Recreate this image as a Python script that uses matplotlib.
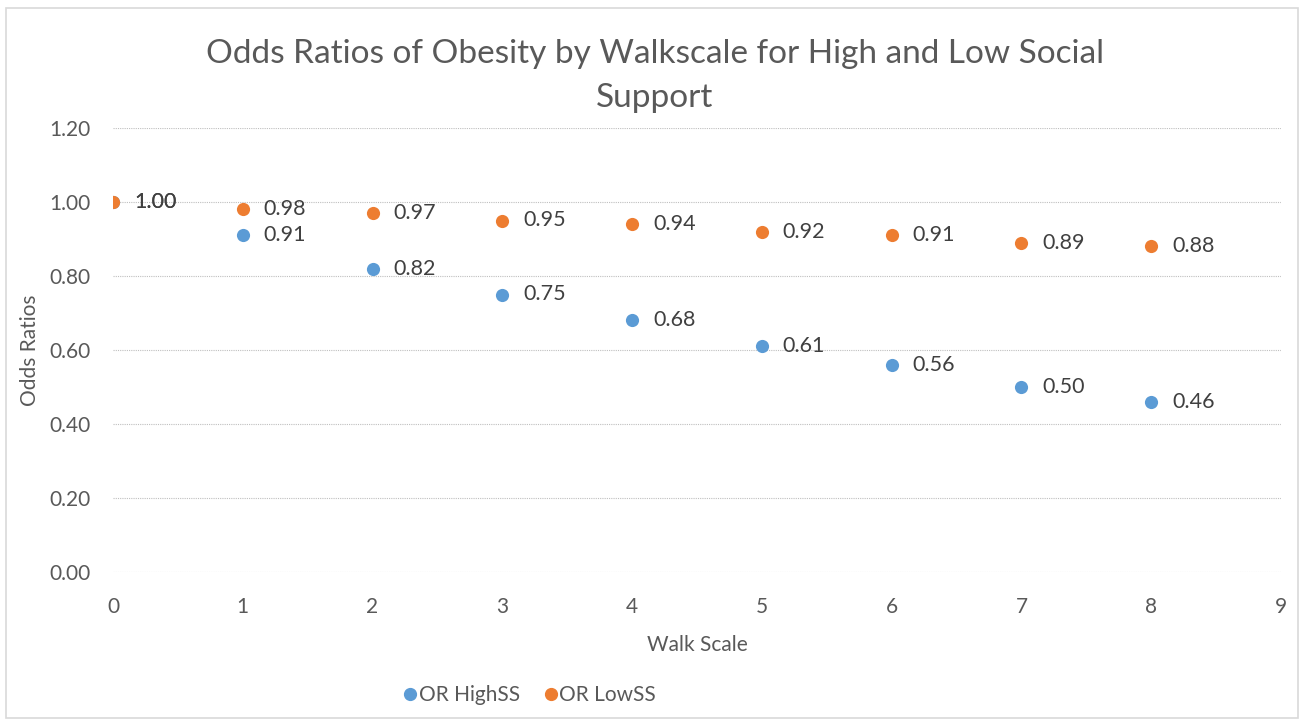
import matplotlib
matplotlib.use("Agg")
import matplotlib.pyplot as plt
from matplotlib.patches import Rectangle
from matplotlib.lines import Line2D

walk_scale = [0, 1, 2, 3, 4, 5, 6, 7, 8]
or_high_ss = [1.00, 0.91, 0.82, 0.75, 0.68, 0.61, 0.56, 0.50, 0.46]
or_low_ss = [1.00, 0.98, 0.97, 0.95, 0.94, 0.92, 0.91, 0.89, 0.88]
series_names = ["OR HighSS", "OR LowSS"]
y_ticks = [0.0, 0.2, 0.4, 0.6, 0.8, 1.0, 1.2]
x_ticks = [0, 1, 2, 3, 4, 5, 6, 7, 8, 9]

BLUE = "#5B9BD5"
ORANGE = "#ED7D31"
TXT = "#595959"
plt.rcParams['font.family'] = ['Lato', 'DejaVu Sans']

fig = plt.figure(figsize=(13.04, 7.23), dpi=100)
ax = fig.add_axes([113/1304, 1 - 572/723, (1281-113)/1304, (572-128)/723])

ax.scatter(walk_scale, or_high_ss, s=90, color=BLUE, zorder=3, linewidths=0)
ax.scatter(walk_scale, or_low_ss, s=90, color=ORANGE, zorder=3, linewidths=0)

for x, y in zip(walk_scale, or_high_ss):
    ax.annotate(f"{y:.2f}", (x, y), xytext=(15, 0), textcoords="offset points",
                va="center", ha="left", fontsize=15.5, color="#404040")
for x, y in zip(walk_scale, or_low_ss):
    ax.annotate(f"{y:.2f}", (x, y), xytext=(15, 0), textcoords="offset points",
                va="center", ha="left", fontsize=15.5, color="#404040")

ax.set_xlim(0, 9)
ax.set_ylim(0, 1.2)
ax.set_xticks(x_ticks)
ax.set_yticks(y_ticks)
ax.set_yticklabels([f"{v:.2f}" for v in y_ticks])
ax.tick_params(axis="both", length=0, labelsize=15, labelcolor=TXT)
ax.tick_params(axis="x", pad=18)
ax.tick_params(axis="y", pad=16)
for s in ax.spines.values():
    s.set_visible(False)
ax.grid(axis="y", color="#BFBFBF", linestyle=(0, (1, 1)), linewidth=0.8)
ax.set_axisbelow(True)

ax.set_xlabel("Walk Scale", fontsize=15, color=TXT, labelpad=13)
ax.set_ylabel("Odds Ratios", fontsize=15, color=TXT, labelpad=7)

fig.text(655/1304, 1 - 76/723, "Odds Ratios of Obesity by Walkscale for High and Low Social\nSupport",
         ha="center", va="center", fontsize=24, color=TXT, linespacing=1.6)

handles = [Line2D([], [], marker="o", linestyle="", color=BLUE, markersize=8.5),
           Line2D([], [], marker="o", linestyle="", color=ORANGE, markersize=8.5)]
fig.legend(handles, series_names, loc="center", bbox_to_anchor=(528/1304, 1 - 695/723),
           ncol=2, frameon=False, fontsize=15, labelcolor=TXT, handletextpad=-0.1,
           columnspacing=1.0, handlelength=1.0)

fig.add_artist(Rectangle((6/1304, 5/723), 1292/1304, 710/723, transform=fig.transFigure,
                         fill=False, edgecolor="#D9D9D9", linewidth=1.2))

fig.savefig("out.png", dpi=100)
